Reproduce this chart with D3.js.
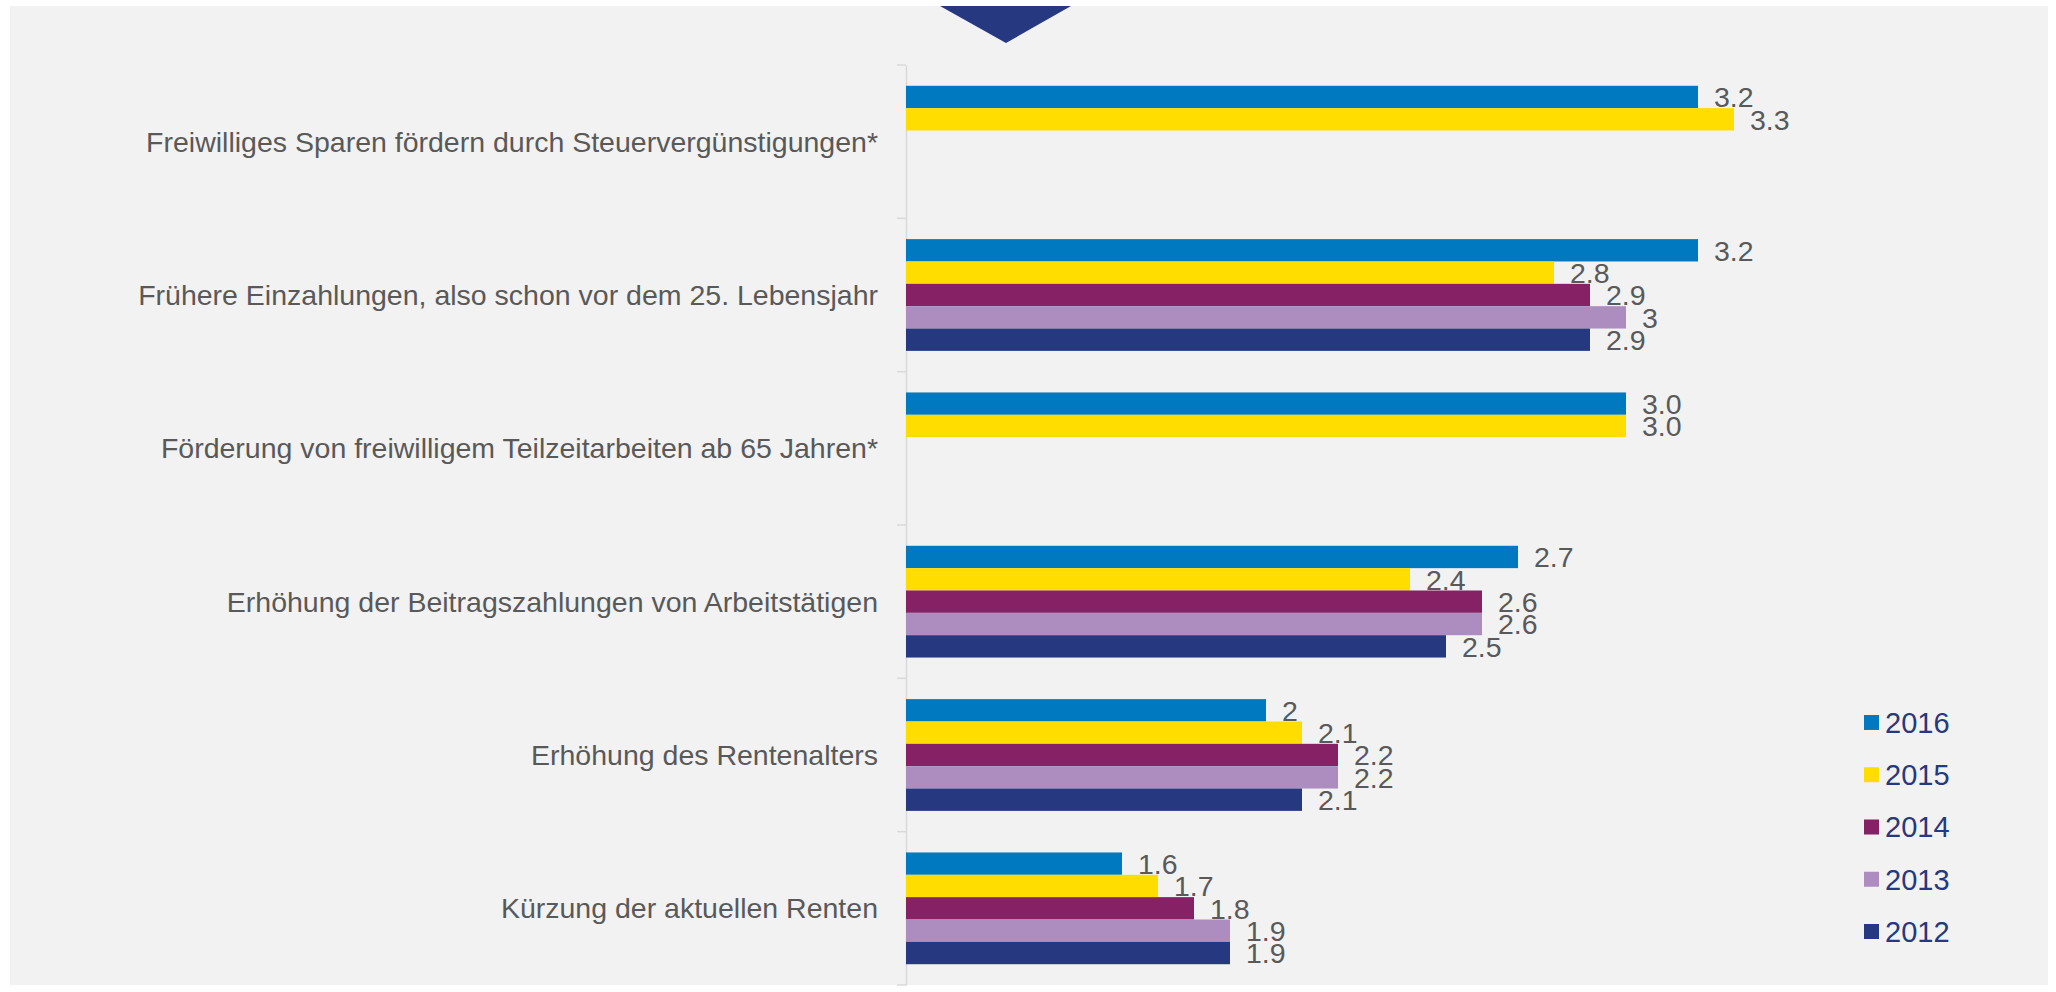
<!DOCTYPE html>
<html>
<head>
<meta charset="utf-8">
<script src="https://cdn.jsdelivr.net/npm/d3@7"></script>
<style>
  body { margin: 0; background: #ffffff; }
  svg { display: block; font-family: "Liberation Sans", Arial, Helvetica, sans-serif; }
</style>
</head>
<body>
<div id="main_output"></div>
<script>
// categories, top to bottom
var categories = [
  "Freiwilliges Sparen fördern durch Steuervergünstigungen*",
  "Frühere Einzahlungen, also schon vor dem 25. Lebensjahr",
  "Förderung von freiwilligem Teilzeitarbeiten ab 65 Jahren*",
  "Erhöhung der Beitragszahlungen von Arbeitstätigen",
  "Erhöhung des Rentenalters",
  "Kürzung der aktuellen Renten"
];

var years = ["2016", "2015", "2014", "2013", "2012"];

// values as printed on the labels (null = not asked that year)
var values2016 = ["3.2", "3.2", "3.0", "2.7", "2",   "1.6"];
var values2015 = ["3.3", "2.8", "3.0", "2.4", "2.1", "1.7"];
var values2014 = [null,  "2.9", null,  "2.6", "2.2", "1.8"];
var values2013 = [null,  "3",   null,  "2.6", "2.2", "1.9"];
var values2012 = [null,  "2.9", null,  "2.5", "2.1", "1.9"];

var yearColours = ["#0079c1", "#ffdd00", "#862165", "#ad8cbf", "#253880"];

var xDomain = [1, 4];

var series = [values2016, values2015, values2014, values2013, values2012];

const width = 2056, height = 992;
const labelGrey = "#595959";
const navy = "#253880";

var svg = d3.select("#main_output")
  .append("svg")
  .attr("width", width)
  .attr("height", height);

// grey panel
svg.append("rect")
  .attr("x", 10)
  .attr("y", 6)
  .attr("width", 2038)
  .attr("height", 979)
  .attr("fill", "#f2f2f2");

// little marker triangle at the top
svg.append("path")
  .attr("d", "M940,6 L1071,6 L1006,43 Z")
  .attr("fill", navy);

const x = d3.scaleLinear().domain(xDomain).range([906, 1986]);
const y0 = d3.scaleBand().domain(categories).range([65, 985]).padding(0);
const y1 = d3.scaleBand().domain(years).range([0, y0.bandwidth()]).paddingInner(0).paddingOuter(0.93);

var flat = [];
series.forEach(function(s, j) {
  s.forEach(function(v, i) {
    if (v !== null) flat.push({cat: categories[i], year: years[j], label: v, value: +v, colour: yearColours[j]});
  });
});

// axis with tick marks between the categories
var axis = svg.append("g")
  .attr("class", "axis axis--y")
  .attr("transform", "translate(" + x(xDomain[0]) + ",0)")
  .call(d3.axisLeft(y0).tickValues([]).tickSizeOuter(0));
axis.select(".domain").attr("stroke", "#d9d9d9").attr("stroke-width", 1.5);

var boundaries = categories.map(function(c) { return y0(c); }).concat([y0.range()[1]]);
svg.append("g").selectAll("line")
  .data(boundaries)
  .enter()
  .append("line")
  .attr("x1", x(xDomain[0]) - 9)
  .attr("x2", x(xDomain[0]))
  .attr("y1", function(d) { return d; })
  .attr("y2", function(d) { return d; })
  .attr("stroke", "#d9d9d9")
  .attr("stroke-width", 1.5);

// category labels
svg.append("g").selectAll("text")
  .data(categories)
  .enter()
  .append("text")
  .attr("x", x(xDomain[0]) - 28)
  .attr("y", function(d) { return y0(d) + y0.bandwidth() / 2; })
  .attr("dy", "0.35em")
  .attr("text-anchor", "end")
  .attr("font-size", "28.5px")
  .attr("fill", labelGrey)
  .text(function(d) { return d; });

// bars
svg.append("g").selectAll("rect")
  .data(flat)
  .enter()
  .append("rect")
  .attr("x", x(xDomain[0]))
  .attr("y", function(d) { return y0(d.cat) + y1(d.year); })
  .attr("width", function(d) { return x(d.value) - x(xDomain[0]); })
  .attr("height", y1.bandwidth())
  .attr("fill", function(d) { return d.colour; });

// value labels
svg.append("g").selectAll("text")
  .data(flat)
  .enter()
  .append("text")
  .attr("x", function(d) { return x(d.value) + 16; })
  .attr("y", function(d) { return y0(d.cat) + y1(d.year) + y1.bandwidth() / 2; })
  .attr("dy", "0.36em")
  .attr("font-size", "28.5px")
  .attr("fill", labelGrey)
  .text(function(d) { return d.label; });

// legend
var legend = svg.append("g").attr("transform", "translate(1864,722.5)");
var item = legend.selectAll("g")
  .data(years)
  .enter()
  .append("g")
  .attr("transform", function(d, i) { return "translate(0," + (i * 52.25) + ")"; });
item.append("rect")
  .attr("x", 0)
  .attr("y", -7.5)
  .attr("width", 15)
  .attr("height", 15)
  .attr("fill", function(d, i) { return yearColours[i]; });
item.append("text")
  .attr("x", 21)
  .attr("dy", "0.36em")
  .attr("font-size", "29px")
  .attr("fill", navy)
  .text(function(d) { return d; });
</script>
</body>
</html>
